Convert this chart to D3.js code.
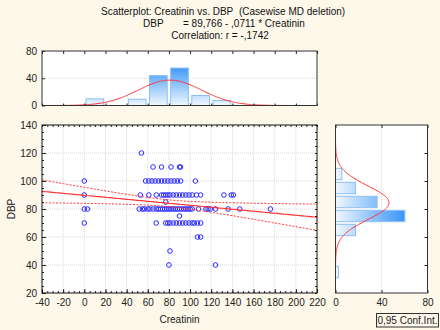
<!DOCTYPE html>
<html>
<head>
<meta charset="utf-8">
<script src="https://cdn.jsdelivr.net/npm/d3@7"></script>
<style>
  body { margin: 0; background: #fdf8ea; }
  svg { display: block; font-family: "Liberation Sans", Arial, sans-serif; }
  .tick text { font-size: 10px; fill: #222; font-family: "Liberation Sans", Arial, sans-serif; }
  .tick line { stroke: #222; }
</style>
</head>
<body>
<div id="chart"></div>
<script>
// scatter points, one row per DBP value
const pointRows = [
  [120, [54]],
  [110, [65, 73, 82, 90, 91]],
  [100, [0, 58, 61, 64, 67, 70, 73, 76, 79, 82, 85, 88, 91, 105]],
  [90,  [0, 53, 61, 68, 73, 75, 77, 79, 81, 84, 87, 90, 93, 96, 99, 102, 106, 110, 132, 139, 141]],
  [85,  [77]],
  [80,  [0, 3, 52, 55, 57, 60, 62, 65, 68, 70, 72, 74, 76, 78, 80, 82, 84, 86, 88, 90, 92, 94, 96, 98, 100, 102, 108, 115, 117, 119, 124, 136, 147, 176]],
  [75,  [90]],
  [70,  [0, 68, 77, 79, 81, 84, 87, 90, 93, 96, 99, 102, 104, 107, 110]],
  [60,  [107, 110]],
  [50,  [81]],
  [40,  [80, 124]]
];

// histogram of Creatinin (bin start, width 20)
const creatBinStarts = [0, 40, 60, 80, 100, 120];
const creatCounts = [9.8, 9.3, 44, 55, 14.7, 7.3];
// histogram of DBP (bin start, width 10)
const dbpBinStarts = [30, 60, 70, 80, 90, 100];
const dbpCounts = [2.6, 17.4, 60.3, 36.2, 17.4, 5.5];

// fit parameters
const intercept = 89.766, slope = -0.0711;
const ciCenter = 80, ciHalfAtCenter = 2.45, ciSpread = 0.0042;
const nCases = 140;
const creatMean = 81, creatSd = 30;
const dbpMean = 84.5, dbpSd = 12;

const creatTicks = [-40, -20, 0, 20, 40, 60, 80, 100, 120, 140, 160, 180, 200, 220];
const dbpTicks = [20, 40, 60, 80, 100, 120, 140];
const countTicks = [0, 40, 80];

const W = 440, H = 330;
const svg = d3.select("#chart").append("svg").attr("width", W).attr("height", H);
svg.append("rect").attr("width", W).attr("height", H).attr("fill", "#fdf8ea");

const x = d3.scaleLinear().domain([-40, 220]).range([42, 317]);
const y = d3.scaleLinear().domain([20, 140]).range([293, 125]);
const yTop = d3.scaleLinear().domain([0, 80]).range([105.5, 51]);
const xR = d3.scaleLinear().domain([0, 80]).range([335.5, 427.5]);

const red = "#ff3333";
const fmt = d => String(d);

// gradients
const defs = svg.append("defs");
const gTop = defs.append("linearGradient").attr("id", "gTop")
  .attr("gradientUnits", "userSpaceOnUse")
  .attr("x1", 0).attr("x2", 0).attr("y1", yTop(0)).attr("y2", yTop(58));
gTop.append("stop").attr("offset", 0).attr("stop-color", "#f0f7ff");
gTop.append("stop").attr("offset", 1).attr("stop-color", "#3a95f7");
const gRight = defs.append("linearGradient").attr("id", "gRight")
  .attr("gradientUnits", "userSpaceOnUse")
  .attr("y1", 0).attr("y2", 0).attr("x1", xR(0)).attr("x2", xR(60));
gRight.append("stop").attr("offset", 0).attr("stop-color", "#f0f7ff");
gRight.append("stop").attr("offset", 1).attr("stop-color", "#3a95f7");

defs.append("clipPath").attr("id", "clipMain").append("rect")
  .attr("x", 42).attr("y", 125).attr("width", 275).attr("height", 168);
defs.append("clipPath").attr("id", "clipTop").append("rect")
  .attr("x", 42).attr("y", 51).attr("width", 275).attr("height", 54.5);
defs.append("clipPath").attr("id", "clipRight").append("rect")
  .attr("x", 335.5).attr("y", 125).attr("width", 92).attr("height", 168);

// title
const title = svg.append("g").attr("font-size", 10).attr("fill", "#111");
title.append("text").attr("x", 101).attr("y", 14.5).text("Scatterplot: Creatinin vs. DBP");
title.append("text").attr("x", 239).attr("y", 14.5).text("(Casewise MD deletion)");
title.append("text").attr("x", 143).attr("y", 27).text("DBP");
title.append("text").attr("x", 183).attr("y", 27).text("= 89,766 - ,0711  * Creatinin");
title.append("text").attr("x", 220).attr("y", 38.5).attr("text-anchor", "middle").text("Correlation: r = -,1742");

// ---------- main scatter ----------
svg.append("rect").attr("x", 42).attr("y", 125).attr("width", 275).attr("height", 168).attr("fill", "#fff");

const grid = svg.append("g").attr("stroke", "#d8d8d8").attr("stroke-dasharray", "1,1");
grid.selectAll(".vx").data(creatTicks.slice(1, -1)).enter().append("line")
  .attr("x1", d => x(d)).attr("x2", d => x(d)).attr("y1", 125).attr("y2", 293);
grid.selectAll(".hy").data(dbpTicks.slice(1, -1)).enter().append("line")
  .attr("y1", d => y(d)).attr("y2", d => y(d)).attr("x1", 42).attr("x2", 317);

const points = pointRows.flatMap(r => r[1].map(c => [c, r[0]]));
svg.append("g").selectAll("circle").data(points).enter().append("circle")
  .attr("cx", d => x(d[0])).attr("cy", d => y(d[1])).attr("r", 2.3)
  .attr("fill", "none").attr("stroke", "#2b2bff").attr("stroke-width", 1);

const fitX = d3.range(-40, 220.5, 2);
const fit = c => intercept + slope * c;
const half = c => Math.sqrt(ciHalfAtCenter * ciHalfAtCenter + ciSpread * (c - ciCenter) * (c - ciCenter));
const lineMain = d3.line().x(d => x(d[0])).y(d => y(d[1]));
const gFit = svg.append("g").attr("clip-path", "url(#clipMain)").attr("fill", "none").attr("stroke", red);
gFit.append("path").attr("d", lineMain(fitX.map(c => [c, fit(c)]))).attr("stroke-width", 1.2);
gFit.append("path").attr("d", lineMain(fitX.map(c => [c, fit(c) + half(c)]))).attr("stroke-dasharray", "2,1.5");
gFit.append("path").attr("d", lineMain(fitX.map(c => [c, fit(c) - half(c)]))).attr("stroke-dasharray", "2,1.5");

// axes
const minorX = d3.range(-40, 221, 5), minorY = d3.range(20, 141, 5);
function noDomain(g) { g.select(".domain").remove(); }
svg.append("g").attr("transform", "translate(0,293)")
  .call(d3.axisBottom(x).tickValues(minorX).tickSize(-2).tickFormat("")).call(noDomain);
svg.append("g").attr("transform", "translate(0,125)")
  .call(d3.axisTop(x).tickValues(minorX).tickSize(-2).tickFormat("")).call(noDomain);
svg.append("g").attr("transform", "translate(42,0)")
  .call(d3.axisLeft(y).tickValues(minorY).tickSize(-2).tickFormat("")).call(noDomain);
svg.append("g").attr("transform", "translate(317,0)")
  .call(d3.axisRight(y).tickValues(minorY).tickSize(-2).tickFormat("")).call(noDomain);
svg.append("g").attr("transform", "translate(0,293)")
  .call(d3.axisBottom(x).tickValues(creatTicks).tickSize(-4).tickPadding(6).tickFormat(fmt)).call(noDomain);
svg.append("g").attr("transform", "translate(42,0)")
  .call(d3.axisLeft(y).tickValues(dbpTicks).tickSize(-4).tickPadding(5).tickFormat(fmt)).call(noDomain);
svg.append("rect").attr("x", 42).attr("y", 125).attr("width", 275).attr("height", 168)
  .attr("fill", "none").attr("stroke", "#111");

svg.append("text").attr("x", 179.5).attr("y", 322.5).attr("text-anchor", "middle")
  .attr("font-size", 10).attr("fill", "#222").text("Creatinin");
svg.append("text").attr("transform", "translate(15,209) rotate(-90)").attr("text-anchor", "middle")
  .attr("font-size", 10).attr("fill", "#222").text("DBP");

// ---------- top histogram ----------
svg.append("rect").attr("x", 42).attr("y", 51).attr("width", 275).attr("height", 54.5).attr("fill", "#fff");
svg.append("line").attr("x1", 42).attr("x2", 317).attr("y1", yTop(40)).attr("y2", yTop(40))
  .attr("stroke", "#d8d8d8").attr("stroke-dasharray", "1,1");
svg.append("g").selectAll("rect").data(creatBinStarts).enter().append("rect")
  .attr("x", d => x(d) + 1.7).attr("width", x(20) - x(0) - 3.4)
  .attr("y", (d, i) => yTop(creatCounts[i])).attr("height", (d, i) => yTop(0) - yTop(creatCounts[i]))
  .attr("fill", "url(#gTop)").attr("stroke", "#8fc0f3").attr("stroke-width", 1);
const normTop = c => nCases * 20 * Math.exp(-0.5 * ((c - creatMean) / creatSd) ** 2) / (creatSd * Math.sqrt(2 * Math.PI));
svg.append("path").attr("clip-path", "url(#clipTop)")
  .attr("d", d3.line().x(c => x(c)).y(c => yTop(normTop(c)))(d3.range(-40, 220.5, 1)))
  .attr("fill", "none").attr("stroke", red).attr("stroke-width", 1);
svg.append("g").attr("transform", "translate(0,105.5)")
  .call(d3.axisBottom(x).tickValues(creatTicks).tickSize(-2).tickFormat("")).call(noDomain);
svg.append("g").attr("transform", "translate(0,51)")
  .call(d3.axisTop(x).tickValues(creatTicks).tickSize(-3).tickFormat("")).call(noDomain);
svg.append("g").attr("transform", "translate(42,0)")
  .call(d3.axisLeft(yTop).tickValues(countTicks).tickSize(-3).tickPadding(5).tickFormat(fmt)).call(noDomain);
svg.append("rect").attr("x", 42).attr("y", 51).attr("width", 275).attr("height", 54.5)
  .attr("fill", "none").attr("stroke", "#333");

// ---------- right histogram ----------
svg.append("rect").attr("x", 335.5).attr("y", 125).attr("width", 92).attr("height", 168).attr("fill", "#fff");
svg.append("line").attr("y1", 125).attr("y2", 293).attr("x1", xR(40)).attr("x2", xR(40))
  .attr("stroke", "#d8d8d8").attr("stroke-dasharray", "1,1");
svg.append("g").selectAll("rect").data(dbpBinStarts).enter().append("rect")
  .attr("y", d => y(d + 10) + 1.3).attr("height", y(0) - y(10) - 2.6)
  .attr("x", xR(0)).attr("width", (d, i) => xR(dbpCounts[i]) - xR(0))
  .attr("fill", "url(#gRight)").attr("stroke", "#8fc0f3").attr("stroke-width", 1);
const normRight = v => nCases * 10 * Math.exp(-0.5 * ((v - dbpMean) / dbpSd) ** 2) / (dbpSd * Math.sqrt(2 * Math.PI));
svg.append("path").attr("clip-path", "url(#clipRight)")
  .attr("d", d3.line().x(v => xR(normRight(v))).y(v => y(v))(d3.range(20, 140.5, 0.5)))
  .attr("fill", "none").attr("stroke", red).attr("stroke-width", 1);
svg.append("g").attr("transform", "translate(0,293)")
  .call(d3.axisBottom(xR).tickValues(countTicks).tickSize(-3).tickPadding(6).tickFormat(fmt)).call(noDomain);
svg.append("g").attr("transform", "translate(0,125)")
  .call(d3.axisTop(xR).tickValues(countTicks).tickSize(-3).tickFormat("")).call(noDomain);
svg.append("g").attr("transform", "translate(427.5,0)")
  .call(d3.axisRight(y).tickValues(dbpTicks.slice(1, -1)).tickSize(-3).tickFormat("")).call(noDomain);
svg.append("rect").attr("x", 335.5).attr("y", 125).attr("width", 92).attr("height", 168)
  .attr("fill", "none").attr("stroke", "#333");

// legend box
svg.append("rect").attr("x", 376.5).attr("y", 313.5).attr("width", 62).attr("height", 13.5)
  .attr("fill", "#fdf8ea").attr("stroke", "#333");
svg.append("text").attr("x", 407.5).attr("y", 324).attr("text-anchor", "middle")
  .attr("font-size", 10).attr("fill", "#222").text("0,95 Conf.Int.");
</script>
</body>
</html>
